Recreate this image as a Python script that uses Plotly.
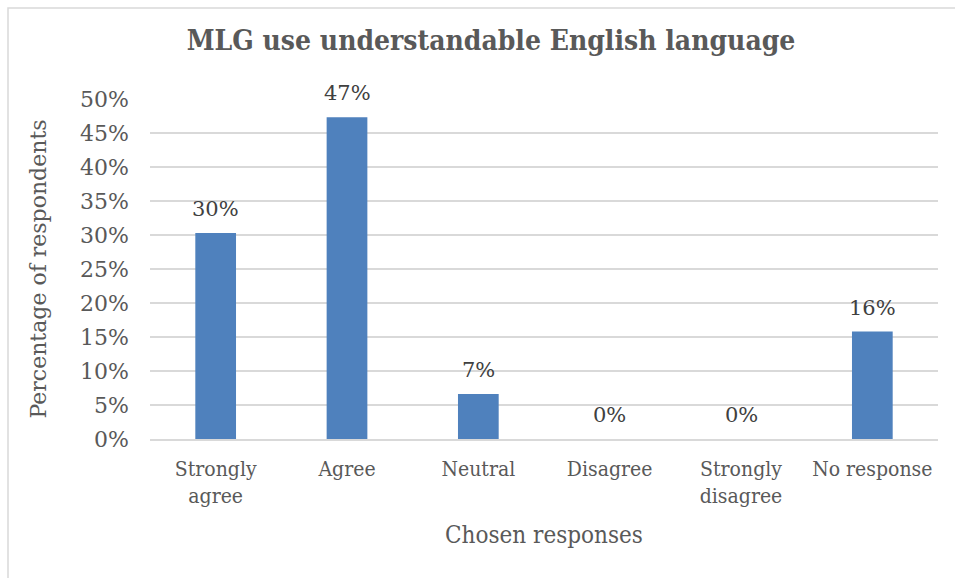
import plotly.graph_objects as go

categories = ["Strongly<br>agree", "Agree", "Neutral", "Disagree", "Strongly<br>disagree", "No response"]
shares = [0.303, 0.473, 0.066, 0.0, 0.0, 0.158]
tick_values = [0, 0.05, 0.10, 0.15, 0.20, 0.25, 0.30, 0.35, 0.40, 0.45, 0.50]

W, H = 955, 578
ML, MR, MT, MB = 150, 17, 99, 139
TEXT = "#595959"
SERIF = "DejaVu Serif, Liberation Serif, serif"
NARROW = "DejaVu Serif Condensed, Liberation Serif, serif"

fig = go.Figure(
    go.Bar(
        x=categories,
        y=shares,
        marker=dict(color="#4f81bd", line=dict(width=0)),
        width=0.31,
        hoverinfo="x+y",
    )
)

# value labels sitting above each bar
for cat, v in zip(categories, shares):
    fig.add_annotation(
        x=cat, y=v, xref="x", yref="y",
        text=f"{v:.0%}", showarrow=False,
        yanchor="middle", yshift=24,
        font=dict(family=SERIF, size=21, color="#404040"),
    )

pw = W - ML - MR
ph = H - MT - MB


def px_to_paper_x(px):
    return (px - ML) / pw


def px_to_paper_y(py):
    return (H - MB - py) / ph


# light frame around the whole chart
fig.add_shape(
    type="rect", xref="paper", yref="paper",
    x0=px_to_paper_x(8), x1=px_to_paper_x(960),
    y0=px_to_paper_y(583), y1=px_to_paper_y(8),
    line=dict(color="#d9d9d9", width=1.5), fillcolor="rgba(0,0,0,0)", layer="below",
)

fig.update_layout(
    width=W, height=H,
    margin=dict(l=ML, r=MR, t=MT, b=MB),
    paper_bgcolor="white", plot_bgcolor="white",
    showlegend=False,
    title=dict(
        text="<b>MLG use understandable English language</b>",
        x=px_to_paper_x(491), xanchor="center", xref="paper",
        y=1 - 40 / H, yanchor="middle",
        font=dict(family=NARROW, size=28, color=TEXT),
    ),
    xaxis=dict(
        showline=True, linecolor="#d9d9d9", linewidth=1.5,
        ticks="", ticklabelstandoff=10,
        tickfont=dict(family=NARROW, size=21, color=TEXT),
        title=dict(text="Chosen responses", font=dict(family=NARROW, size=24, color=TEXT), standoff=19),
    ),
    yaxis=dict(
        range=[0, 0.5], tickvals=tick_values, tickformat=".0%",
        showgrid=True, gridcolor="#d9d9d9", gridwidth=1.5,
        zeroline=False, ticks="", ticklen=0, ticklabelstandoff=20,
        tickfont=dict(family=SERIF, size=22, color=TEXT),
        title=dict(text="Percentage of respondents", font=dict(family=SERIF, size=22, color=TEXT), standoff=27),
    ),
    bargap=0.69,
)

fig.write_html("out.html")
